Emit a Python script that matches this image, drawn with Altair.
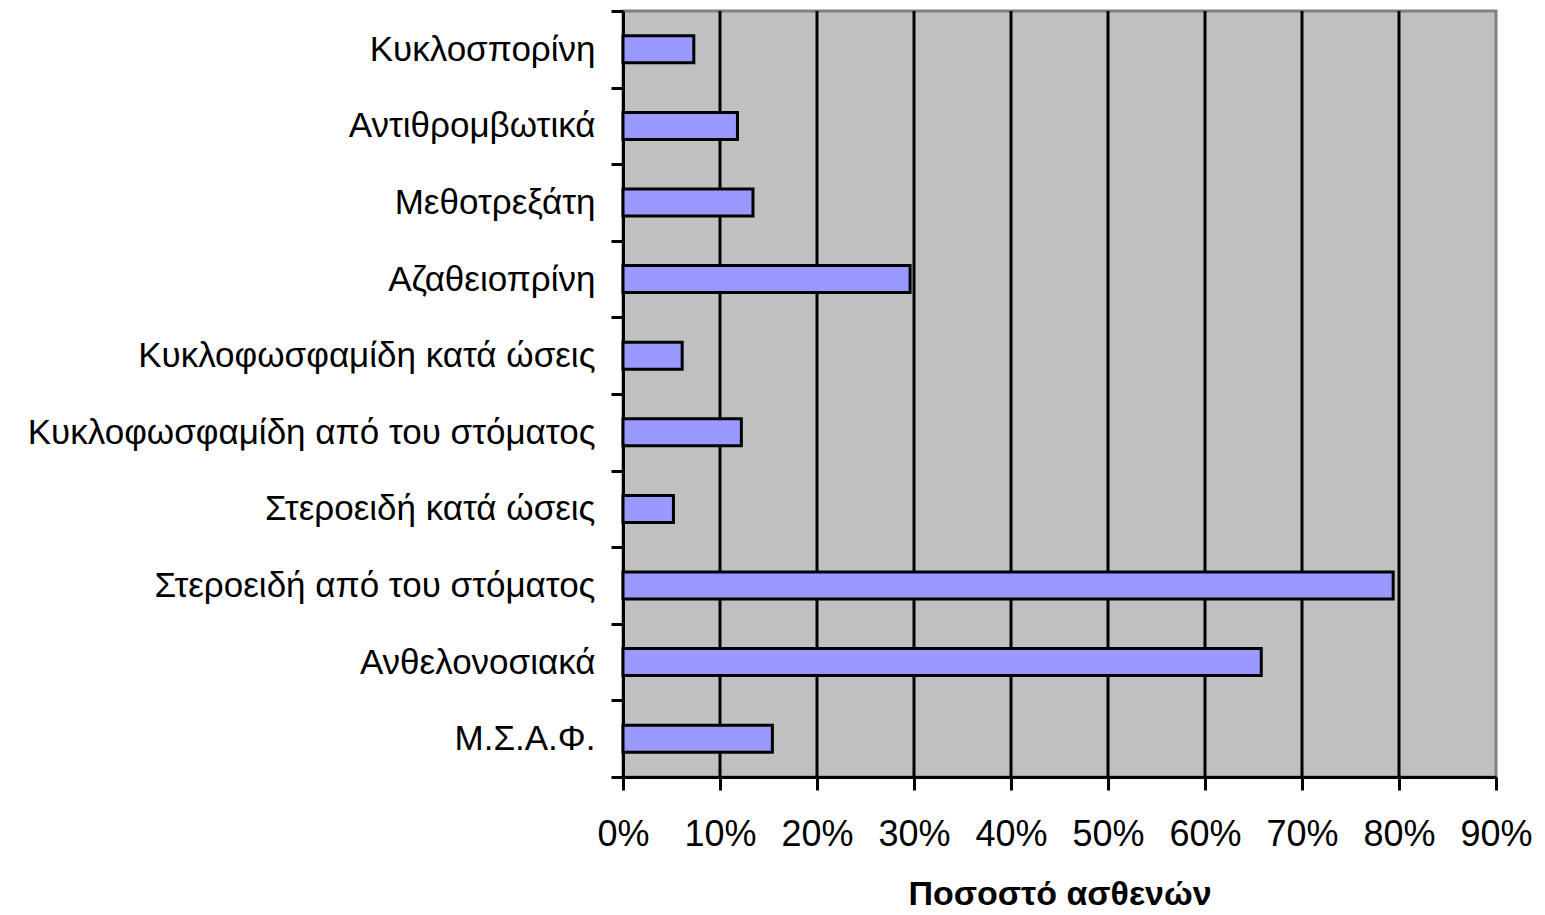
import altair as alt
import pandas as pd

# Medication categories, top to bottom
drugs = [
    "Κυκλοσπορίνη",
    "Αντιθρομβωτικά",
    "Μεθοτρεξάτη",
    "Αζαθειοπρίνη",
    "Κυκλοφωσφαμίδη κατά ώσεις",
    "Κυκλοφωσφαμίδη από του στόματος",
    "Στεροειδή κατά ώσεις",
    "Στεροειδή από του στόματος",
    "Ανθελονοσιακά",
    "Μ.Σ.Α.Φ.",
]
# Share of patients receiving each medication
shares = [0.073, 0.118, 0.134, 0.296, 0.061, 0.122, 0.052, 0.794, 0.658, 0.154]

x_ticks = [0.0, 0.1, 0.2, 0.3, 0.4, 0.5, 0.6, 0.7, 0.8, 0.9]
grid_lines = [0.1, 0.2, 0.3, 0.4, 0.5, 0.6, 0.7, 0.8]

df = pd.DataFrame({"drug": drugs, "share": shares})
grid_df = pd.DataFrame({"g": grid_lines})

FONT = "Liberation Sans"

x_scale = alt.Scale(domain=[0, 0.9], nice=False)

grid = alt.Chart(grid_df).mark_rule(color="black", strokeWidth=3).encode(
    x=alt.X("g:Q", scale=x_scale)
)

bars = alt.Chart(df).mark_bar(
    color="#9999FF", stroke="black", strokeWidth=3, size=27
).encode(
    y=alt.Y(
        "drug:N",
        sort=drugs,
        scale=alt.Scale(paddingInner=0, paddingOuter=0),
        axis=alt.Axis(
            title=None,
            tickBand="extent",
            tickSize=12,
            tickWidth=3,
            tickColor="black",
            domainColor="black",
            domainWidth=3,
            labelFont=FONT,
            labelFontSize=35,
            labelColor="black",
            labelPadding=16,
            labelLimit=800,
            grid=False,
        ),
    ),
    x=alt.X(
        "share:Q",
        scale=x_scale,
        axis=alt.Axis(
            title="Ποσοστό ασθενών",
            titleFont=FONT,
            titleFontSize=34,
            titleFontWeight="bold",
            titleColor="black",
            titlePadding=25,
            values=x_ticks,
            format=".0%",
            tickSize=13,
            tickWidth=3,
            tickColor="black",
            domainColor="black",
            domainWidth=3,
            labelFont=FONT,
            labelFontSize=36,
            labelColor="black",
            labelPadding=27,
            labelFlush=False,
            labelOverlap=False,
            grid=False,
        ),
    ),
)

chart = alt.layer(grid, bars).properties(
    width=873,
    height=766,
    background="white",
    padding={"left": 623, "top": 11, "right": 49, "bottom": 138},
    autosize=alt.AutoSizeParams(type="none"),
).configure_view(
    fill="#C0C0C0",
    stroke="#808080",
    strokeWidth=3,
)

chart.save("out.html", embed_options={"renderer": "svg", "actions": False})
